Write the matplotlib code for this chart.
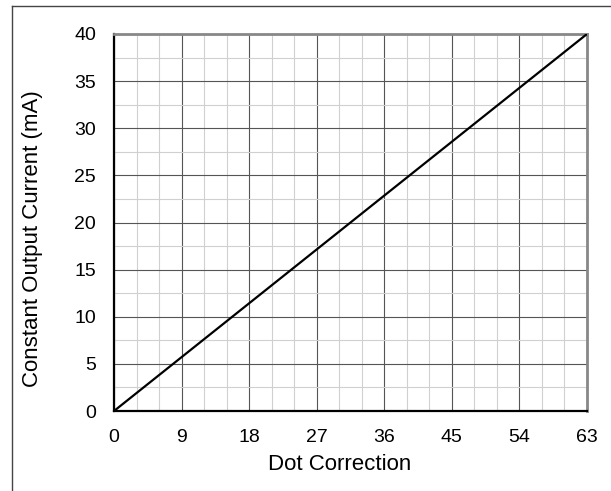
import matplotlib
matplotlib.use("Agg")
import matplotlib.pyplot as plt
from matplotlib.ticker import MultipleLocator
from matplotlib.lines import Line2D

plt.rcParams['font.family'] = ['Liberation Sans', 'DejaVu Sans']

dot_correction = [0, 63]
output_current_ma = [0, 40]
x_ticks = [0, 9, 18, 27, 36, 45, 54, 63]
y_ticks = [0, 5, 10, 15, 20, 25, 30, 35, 40]

fig = plt.figure(figsize=(6.11, 4.91), dpi=100)

# frame lines
fig.add_artist(Line2D([12/611, 1.0], [1-6/491, 1-6/491], color='#444444', lw=1.0,
                      transform=fig.transFigure))
fig.add_artist(Line2D([12/611, 12/611], [0, 1-6/491], color='#444444', lw=1.0,
                      transform=fig.transFigure))

ax = fig.add_axes([114/611, 1-411/491, (587-114)/611, (411-34)/491])
ax.plot(dot_correction, output_current_ma, color='black', lw=1.6, zorder=5)
ax.set_xlim(0, 63)
ax.set_ylim(0, 40)
ax.set_xticks(x_ticks)
ax.set_yticks(y_ticks)
ax.xaxis.set_minor_locator(MultipleLocator(3))
ax.yaxis.set_minor_locator(MultipleLocator(2.5))
ax.grid(which='major', color='#555555', lw=0.8, zorder=2)
ax.grid(which='minor', color='#d0d0d0', lw=0.8, zorder=1)
ax.set_axisbelow(True)
ax.tick_params(which='both', length=0)
ax.tick_params(axis='x', pad=13, labelsize=14)
ax.tick_params(axis='y', pad=13, labelsize=14)
for s in ['left', 'bottom']:
    ax.spines[s].set_color('black')
    ax.spines[s].set_linewidth(1.6)
for s in ['top', 'right']:
    ax.spines[s].set_color('#888888')
    ax.spines[s].set_linewidth(2.0)
ax.set_xlabel("Dot Correction", fontsize=16, labelpad=7)
ax.set_ylabel("Constant Output Current (mA)", fontsize=16, labelpad=21)
ax.xaxis.set_label_coords((340-114)/473, -(470-411)/377, transform=ax.transAxes)
ax.xaxis.label.set_va('baseline')
ax.yaxis.set_label_coords(-(114-38)/473, (411-239)/377, transform=ax.transAxes)
ax.yaxis.label.set_va('baseline')

fig.savefig("out.png", dpi=100)
